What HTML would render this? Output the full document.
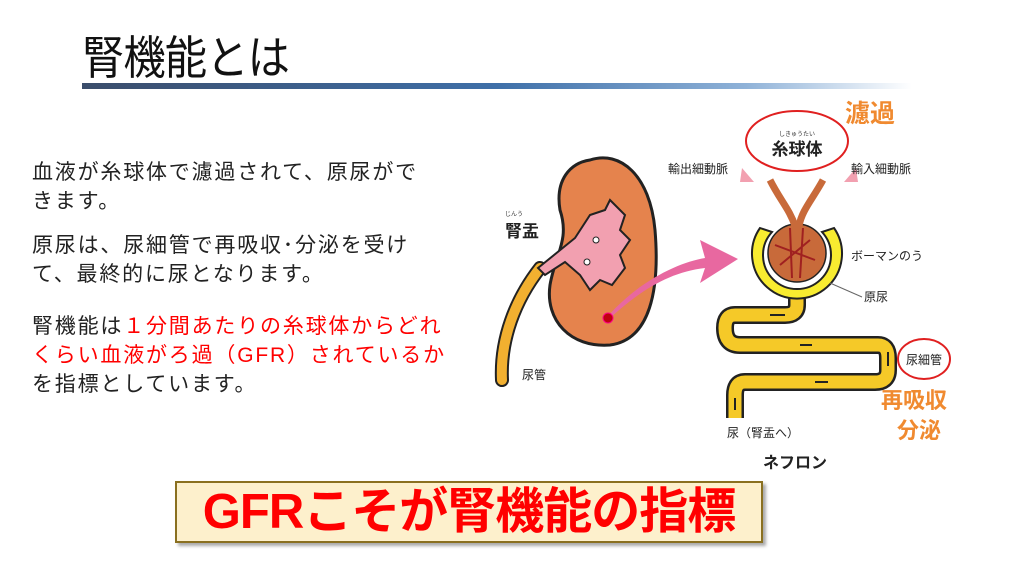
<!DOCTYPE html>
<html><head><meta charset="utf-8"><style>
body{margin:0;width:1024px;height:576px;background:#fff;overflow:hidden;position:relative;font-family:"Liberation Sans","Noto Sans CJK JP",sans-serif}
.t{position:absolute;left:82px;top:22px;font-size:46px;color:#111;letter-spacing:-1px;transform:scaleX(0.92);transform-origin:left}
.bar{position:absolute;left:82px;top:83px;width:830px;height:6px;background:linear-gradient(90deg,#3b4d6b,#3e6fa8 50%,#8fb2d8 80%,#fff)}
.p{position:absolute;left:32px;font-size:21px;color:#222;letter-spacing:1.8px;line-height:29px;white-space:nowrap}
.r{color:#f00}
.box{position:absolute;left:175px;top:481px;width:584px;height:58px;background:#fdf0cc;border:2px solid #8a7020;box-shadow:3px 3px 3px #aaa;text-align:center;font-size:49px;font-weight:bold;color:#f00;line-height:58px;letter-spacing:-1px}
</style></head><body>
<div class="t">腎機能とは</div>
<div class="bar"></div>
<div class="p" style="top:158px">血液が糸球体で濾過されて、原尿がで<br>きます。</div>
<div class="p" style="top:231px">原尿は、尿細管で再吸収･分泌を受け<br>て、最終的に尿となります。</div>
<div class="p" style="top:312px">腎機能は<span class="r">１分間あたりの糸球体からどれ<br>くらい血液がろ過（GFR）されているか</span><br>を指標としています。</div>
<svg width="1024" height="576" style="position:absolute;left:0;top:0" font-family="Liberation Sans,Noto Sans CJK JP,sans-serif">
<path d="M540,268 C515,300 500,340 502,380" stroke="#222" stroke-width="14" fill="none" stroke-linecap="round"/>
<path d="M540,268 C515,300 500,340 502,380" stroke="#f2b030" stroke-width="10" fill="none" stroke-linecap="round"/>
<path d="M590,160 C620,150 650,175 655,230 C660,290 650,340 610,345 C570,348 545,320 550,285 C555,255 570,240 560,210 C555,180 570,163 590,160Z" fill="#e5834d" stroke="#222" stroke-width="3"/>
<path d="M538,268 L575,238 L590,215 L605,210 L610,200 L625,215 L620,230 L630,240 L620,255 L625,268 L612,285 L600,280 L590,290 L580,275 L565,262 L545,275Z" fill="#f2a0b0" stroke="#222" stroke-width="2"/>
<circle cx="596" cy="240" r="3" fill="#fff" stroke="#222"/><circle cx="587" cy="262" r="3" fill="#fff" stroke="#222"/>
<path d="M608,316 C640,280 680,262 705,258 L700,240 L738,259 L700,283 L705,268 C670,272 640,290 608,320Z" fill="#e868a0"/>
<circle cx="608" cy="318" r="5" fill="#c00010" stroke="#f08" stroke-width="1"/>
<path d="M797,295 L797,305 Q797,315 785,315 L735,315 Q725,315 725,328 Q725,345 740,345 L878,345 Q888,345 888,358 L888,370 Q888,382 875,382 L745,382 Q735,382 735,395 L735,418" stroke="#222" stroke-width="18" fill="none"/>
<path d="M797,295 L797,305 Q797,315 785,315 L735,315 Q725,315 725,328 Q725,345 740,345 L878,345 Q888,345 888,358 L888,370 Q888,382 875,382 L745,382 Q735,382 735,395 L735,418" stroke="#f5c928" stroke-width="13" fill="none"/>
<path d="M760,228 A45,45 0 1 0 834,228 L822,232 A34,34 0 1 1 772,232Z" fill="#f8ec30" stroke="#222" stroke-width="2"/>
<circle cx="797" cy="253" r="29" fill="#c86a3a" stroke="#222" stroke-width="1.5"/>
<path d="M775,245 L815,260 M780,265 L810,240 M790,228 L792,278 M803,228 L800,278" stroke="#a02020" stroke-width="2"/>
<path d="M770,180 C780,200 790,210 795,226 M823,180 C812,200 802,210 799,226" stroke="#c86a3a" stroke-width="7" fill="none"/>
<path d="M742,168 L740,182 L754,182 Z M856,168 L858,182 L844,182Z" fill="#f2a0b0"/>
<ellipse cx="797" cy="141" rx="51" ry="30" fill="none" stroke="#e02020" stroke-width="2"/>
<text x="797" y="136" font-size="6" text-anchor="middle" fill="#333">しきゅうたい</text>
<text x="797" y="155" font-size="17" font-weight="bold" text-anchor="middle" fill="#222">糸球体</text>
<text x="845" y="122" font-size="25" font-weight="bold" fill="#f08a30">濾過</text>
<text x="668" y="173" font-size="12" fill="#222">輸出細動脈</text>
<text x="851" y="173" font-size="12" fill="#222">輸入細動脈</text>
<text x="851" y="260" font-size="12" fill="#222">ボーマンのう</text>
<line x1="830" y1="283" x2="862" y2="297" stroke="#666"/>
<text x="864" y="301" font-size="12" fill="#222">原尿</text>
<text x="505" y="216" font-size="6" fill="#333">じんう</text>
<text x="505" y="237" font-size="17" font-weight="bold" fill="#222">腎盂</text>
<text x="522" y="379" font-size="12" fill="#222">尿管</text>
<ellipse cx="924" cy="359" rx="26" ry="20" fill="none" stroke="#e02020" stroke-width="2"/>
<text x="924" y="364" font-size="12" text-anchor="middle" fill="#222">尿細管</text>
<text x="881" y="408" font-size="22" font-weight="bold" fill="#f08a30">再吸収</text>
<text x="897" y="438" font-size="22" font-weight="bold" fill="#f08a30">分泌</text>
<text x="727" y="437" font-size="12" fill="#222">尿（腎盂へ）</text>
<text x="763" y="468" font-size="16" font-weight="bold" fill="#222">ネフロン</text>
<g stroke="#222" stroke-width="2" fill="#222"><path d="M785,315 L770,315"/><path d="M800,345 L812,345"/><path d="M828,382 L815,382"/><path d="M888,352 L888,366"/><path d="M735,398 L735,410"/></g>
</svg>
<div class="box">GFRこそが腎機能の指標</div>
</body></html>
